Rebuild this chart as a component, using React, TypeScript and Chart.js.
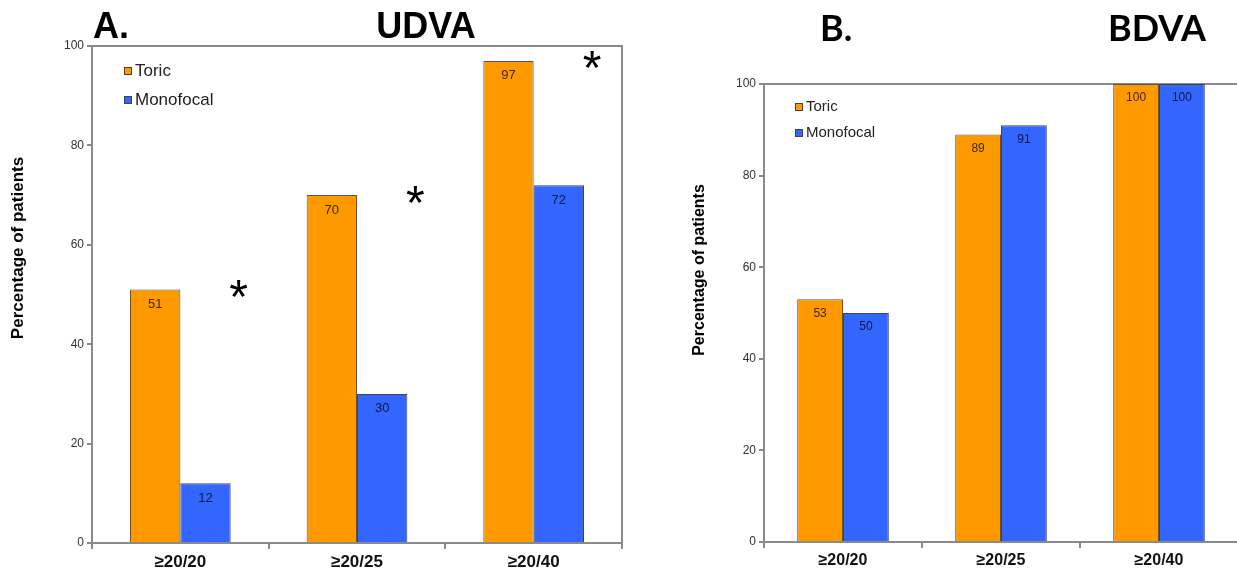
import React, { useEffect, useRef } from "react";
import { Chart, registerables } from "chart.js";

Chart.register(...registerables);

// ---------- data ----------
const categories = ["≥20/20", "≥20/25", "≥20/40"];
const seriesNames = ["Toric", "Monofocal"];
const udvaToric = [51, 70, 97];
const udvaMono = [12, 30, 72];
const bdvaToric = [53, 89, 100];
const bdvaMono = [50, 91, 100];
const udvaSignificant = [true, true, true];
const yMin = 0;
const yMax = 100;
const yStep = 20;

// ---------- styles ----------
const ORANGE = "#FF9900";
const BLUE = "#3366FF";
const AXIS = "#8a8a8a";
const SANS = "'Liberation Sans', Arial, sans-serif";

type PanelOpts = {
  toric: number[];
  mono: number[];
  width: number;
  height: number;
  plotLeft: number;
  plotRight: number;
  plotTop: number;
  plotBottom: number;
  letter: string;
  letterX: number;
  letterBaseline: number;
  title: string;
  titleCenterX: number;
  titleFont: string;
  yTitleX: number;
  yTitleY: number;
  yTitleSize: number;
  legendX: number;
  legendY: number[];
  legendSize: number;
  tickSize: number;
  xTickSize: number;
  valueSize: number;
  valueOffset: number;
  catPct: number;
  stars?: boolean[];
};

function buildConfig(o: PanelOpts): any {
  const textPlugin = {
    id: "texts",
    afterDraw(chart: any) {
      const ctx = chart.ctx;
      ctx.save();
      ctx.fillStyle = "#000";
      ctx.font = o.titleFont;
      ctx.textBaseline = "alphabetic";
      ctx.textAlign = "left";
      ctx.fillText(o.letter, o.letterX, o.letterBaseline);
      ctx.textAlign = "center";
      ctx.fillText(o.title, o.titleCenterX, o.letterBaseline);
      // y title
      ctx.save();
      ctx.translate(o.yTitleX, o.yTitleY);
      ctx.rotate(-Math.PI / 2);
      ctx.font = `bold ${o.yTitleSize}px ${SANS}`;
      ctx.textAlign = "center";
      ctx.textBaseline = "middle";
      ctx.fillText("Percentage of patients", 0, 0);
      ctx.restore();
      // legend
      const ds = chart.data.datasets;
      ctx.font = `${o.legendSize}px ${SANS}`;
      ctx.textAlign = "left";
      ctx.textBaseline = "middle";
      ds.forEach((d: any, i: number) => {
        const cy = o.legendY[i];
        ctx.fillStyle = d.backgroundColor;
        ctx.fillRect(o.legendX, cy - 4, 8, 8);
        ctx.strokeStyle = "#444";
        ctx.lineWidth = 1;
        ctx.strokeRect(o.legendX + 0.5, cy - 3.5, 7, 7);
        ctx.fillStyle = "#222";
        ctx.fillText(d.label, o.legendX + 11, cy);
      });
      ctx.restore();
    },
  };

  const boxPlugin = {
    id: "box",
    beforeDatasetsDraw(chart: any) {
      const { ctx, chartArea } = chart;
      ctx.save();
      ctx.strokeStyle = AXIS;
      ctx.lineWidth = 2;
      ctx.beginPath();
      ctx.moveTo(chartArea.left, chartArea.top);
      ctx.lineTo(chartArea.right, chartArea.top);
      ctx.lineTo(chartArea.right, chartArea.bottom);
      ctx.stroke();
      ctx.restore();
    },
  };

  const labelPlugin = {
    id: "barLabels",
    afterDatasetsDraw(chart: any) {
      const ctx = chart.ctx;
      ctx.save();
      ctx.font = `${o.valueSize}px ${SANS}`;
      ctx.textAlign = "center";
      ctx.textBaseline = "middle";
      chart.data.datasets.forEach((d: any, di: number) => {
        const meta = chart.getDatasetMeta(di);
        meta.data.forEach((bar: any, i: number) => {
          ctx.fillStyle = di === 0 ? "#3a2a00" : "#101840";
          ctx.fillText(String(d.data[i]), bar.x, bar.y + o.valueOffset);
        });
      });
      ctx.restore();
    },
  };

  const starPlugin = {
    id: "stars",
    afterDatasetsDraw(chart: any) {
      if (!o.stars) return;
      const ctx = chart.ctx;
      const xs = chart.scales.x;
      const ys = chart.scales.y;
      const catW = (xs.right - xs.left) / categories.length;
      ctx.save();
      ctx.fillStyle = "#000";
      ctx.font = `48px ${SANS}`;
      ctx.textAlign = "center";
      ctx.textBaseline = "alphabetic";
      const m = ctx.measureText("*");
      const off = (m.actualBoundingBoxAscent - m.actualBoundingBoxDescent) / 2;
      o.stars.forEach((s, i) => {
        if (!s) return;
        const x = xs.getPixelForValue(i) + catW * 0.33;
        const y = ys.getPixelForValue(o.toric[i]) - 1;
        ctx.fillText("*", x, y + off);
      });
      ctx.restore();
    },
  };

  return {
    type: "bar",
    data: {
      labels: categories,
      datasets: [
        {
          label: seriesNames[0],
          data: o.toric,
          backgroundColor: ORANGE,
          borderColor: "#555",
          borderWidth: 1,
          barPercentage: 1,
          categoryPercentage: o.catPct,
        },
        {
          label: seriesNames[1],
          data: o.mono,
          backgroundColor: BLUE,
          borderColor: "#444",
          borderWidth: 1,
          barPercentage: 1,
          categoryPercentage: o.catPct,
        },
      ],
    },
    options: {
      responsive: false,
      animation: false,
      devicePixelRatio: 1,
      layout: {
        padding: {
          left: 0,
          top: o.plotTop,
          right: o.width - o.plotRight,
          bottom: 0,
        },
      },
      plugins: {
        legend: { display: false },
        tooltip: { enabled: false },
      },
      scales: {
        x: {
          grid: {
            drawOnChartArea: false,
            offset: true,
            tickLength: 6,
            color: AXIS,
            lineWidth: 2,
          },
          border: { color: AXIS, width: 2 },
          ticks: {
            font: { family: SANS, size: o.xTickSize, weight: "bold" },
            color: "#111",
            padding: 3,
          },
          afterFit: (s: any) => {
            s.height = o.height - o.plotBottom;
          },
        },
        y: {
          min: yMin,
          max: yMax,
          ticks: {
            stepSize: yStep,
            font: { family: SANS, size: o.tickSize },
            color: "#333",
            padding: 3,
          },
          grid: {
            drawOnChartArea: false,
            tickLength: 5,
            color: AXIS,
            lineWidth: 2,
          },
          border: { color: AXIS, width: 2 },
          afterFit: (s: any) => {
            s.width = o.plotLeft;
          },
        },
      },
    },
    plugins: [boxPlugin, labelPlugin, starPlugin, textPlugin],
  };
}

function Panel({ opts, left }: { opts: PanelOpts; left: number }) {
  const ref = useRef<HTMLCanvasElement | null>(null);
  useEffect(() => {
    if (!ref.current) return;
    const chart = new Chart(ref.current, buildConfig(opts));
    return () => chart.destroy();
  }, []);
  return (
    <canvas
      ref={ref}
      width={opts.width}
      height={opts.height}
      style={{ position: "absolute", left, top: 0, width: opts.width, height: opts.height }}
    />
  );
}

const leftOpts: PanelOpts = {
  toric: udvaToric,
  mono: udvaMono,
  width: 640,
  height: 574,
  plotLeft: 92,
  plotRight: 622,
  plotTop: 46,
  plotBottom: 543,
  letter: "A.",
  letterX: 93,
  letterBaseline: 38,
  title: "UDVA",
  titleCenterX: 426,
  titleFont: `bold 36px ${SANS}`,
  yTitleX: 18,
  yTitleY: 248,
  yTitleSize: 17,
  legendX: 124,
  legendY: [71, 100],
  legendSize: 17,
  tickSize: 12,
  xTickSize: 17,
  valueSize: 13,
  valueOffset: 15,
  catPct: 0.57,
  stars: udvaSignificant,
};

const rightOpts: PanelOpts = {
  toric: bdvaToric,
  mono: bdvaMono,
  width: 600,
  height: 574,
  plotLeft: 124,
  plotRight: 598,
  plotTop: 84,
  plotBottom: 542,
  letter: "B.",
  letterX: 180,
  letterBaseline: 41,
  title: "BDVA",
  titleCenterX: 517,
  titleFont: `bold 36px Lato, 'Open Sans', sans-serif`,
  yTitleX: 60,
  yTitleY: 270,
  yTitleSize: 16,
  legendX: 155,
  legendY: [107, 133],
  legendSize: 15,
  tickSize: 12,
  xTickSize: 16,
  valueSize: 12,
  valueOffset: 14,
  catPct: 0.58,
};

export default function App() {
  return (
    <div
      style={{
        position: "absolute",
        left: 0,
        top: 0,
        width: 1237,
        height: 574,
        overflow: "hidden",
        background: "#fff",
      }}
    >
      <Panel opts={leftOpts} left={0} />
      <Panel opts={rightOpts} left={640} />
    </div>
  );
}
